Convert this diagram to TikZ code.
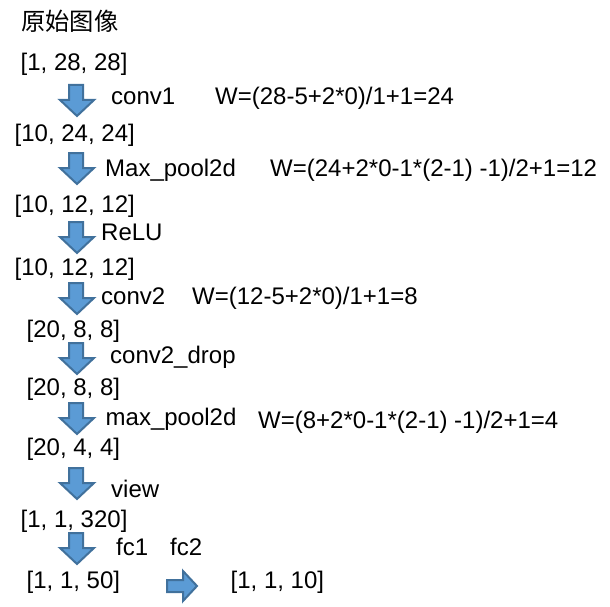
\documentclass[tikz,border=0pt]{standalone}
\usepackage{fontspec}
\setmainfont{Liberation Sans}
\newfontfamily\cjk{Noto Sans CJK SC}
\definecolor{arrfill}{HTML}{5B9BD5}
\definecolor{arrdraw}{HTML}{41719C}
\newcommand\darr[1]{\draw[barrow] (69,#1) -- (83,#1) -- (83,{#1+15}) -- (94,{#1+15}) -- (77,{#1+31}) -- (60,{#1+15}) -- (69,{#1+15}) -- cycle;}
\begin{document}
\begin{tikzpicture}[x=1pt,y=-1pt,
  txt/.style={anchor=base west,inner sep=0pt,font=\fontsize{24}{24}\selectfont},
  barrow/.style={fill=arrfill,draw=arrdraw,line width=2pt,line join=miter}]
\useasboundingbox (0,0) rectangle (610,607);
\node[txt,font=\cjk\fontsize{24.3}{25}\selectfont] (title) at (21,31) {原始图像};
\node[txt] (s0) at (20.5,71) {[1, 28, 28]};
\darr{85}
\node[txt] (l1) at (111,105) {conv1};
\node[txt] (w1) at (215,105) {W=(28-5+2*0)/1+1=24};
\node[txt] (s1) at (14.5,141) {[10, 24, 24]};
\darr{153}
\node[txt] (l2) at (105,176) {Max\_pool2d};
\node[txt] (w2) at (270,176) {W=(24+2*0-1*(2-1) -1)/2+1=12};
\node[txt] (s2) at (14.5,212) {[10, 12, 12]};
\darr{222}
\node[txt] (l3) at (101,240) {ReLU};
\node[txt] (s3) at (14.5,275) {[10, 12, 12]};
\darr{283}
\node[txt] (l4) at (101,304) {conv2};
\node[txt] (w4) at (192,304) {W=(12-5+2*0)/1+1=8};
\node[txt] (s4) at (26.5,337) {[20, 8, 8]};
\darr{343}
\node[txt] (l5) at (110,363) {conv2\_drop};
\node[txt] (s5) at (26.5,395) {[20, 8, 8]};
\darr{403}
\node[txt] (l6) at (105.5,425) {max\_pool2d};
\node[txt] (w6) at (258,428) {W=(8+2*0-1*(2-1) -1)/2+1=4};
\node[txt] (s6) at (26.5,455) {[20, 4, 4]};
\darr{468}
\node[txt] (l7) at (111,497) {view};
\node[txt] (s7) at (20.5,527) {[1, 1, 320]};
\darr{533}
\node[txt] (l8) at (116,555) {fc1};
\node[txt] (l9) at (170,555) {fc2};
\node[txt] (s8) at (26.5,588) {[1, 1, 50]};
\draw[barrow] (167,580) -- (183,580) -- (183,571) -- (197,586) -- (183,601) -- (183,592) -- (167,592) -- cycle;
\node[txt] (s9) at (230.5,588) {[1, 1, 10]};
\end{tikzpicture}
\end{document}
